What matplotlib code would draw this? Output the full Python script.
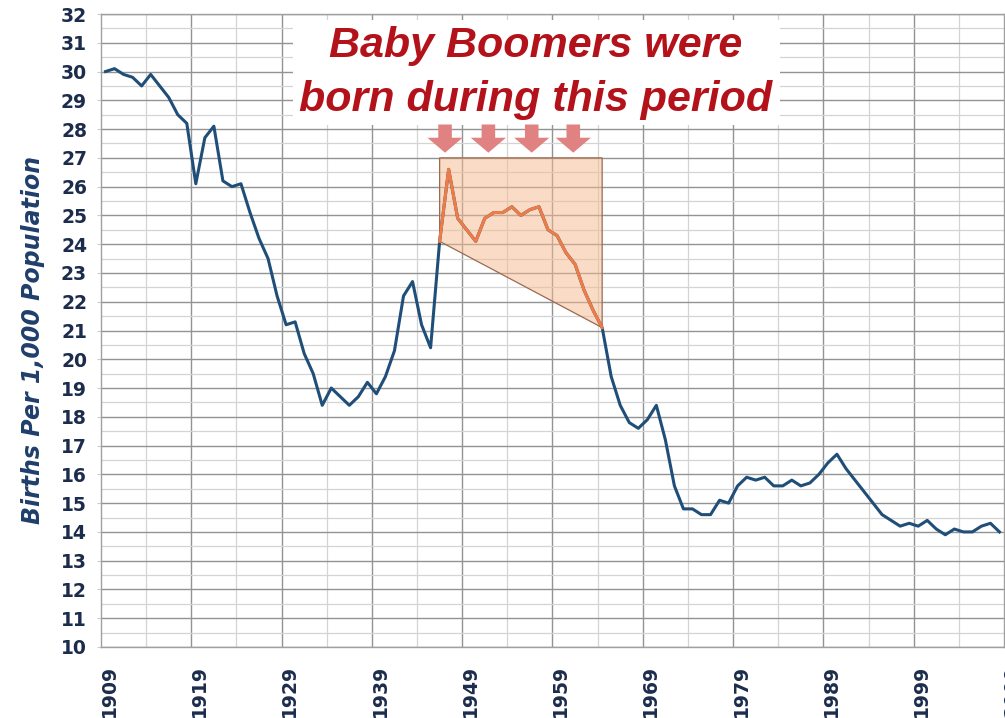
import matplotlib
matplotlib.use('Agg')
import matplotlib.pyplot as plt
import numpy as np
from matplotlib.patches import Polygon, Rectangle, FancyArrow
from matplotlib.transforms import blended_transform_factory

# US crude birth rate, births per 1,000 population
years = list(range(1909, 2009))
births = [
    30.0, 30.1, 29.9, 29.8, 29.5, 29.9, 29.5, 29.1, 28.5, 28.2,  # 1909-1918
    26.1, 27.7, 28.1, 26.2, 26.0, 26.1, 25.1, 24.2, 23.5, 22.2,  # 1919-1928
    21.2, 21.3, 20.2, 19.5, 18.4, 19.0, 18.7, 18.4, 18.7, 19.2,  # 1929-1938
    18.8, 19.4, 20.3, 22.2, 22.7, 21.2, 20.4, 24.1, 26.6, 24.9,  # 1939-1948
    24.5, 24.1, 24.9, 25.1, 25.1, 25.3, 25.0, 25.2, 25.3, 24.5,  # 1949-1958
    24.3, 23.7, 23.3, 22.4, 21.7, 21.1, 19.4, 18.4, 17.8, 17.6,  # 1959-1968
    17.9, 18.4, 17.2, 15.6, 14.8, 14.8, 14.6, 14.6, 15.1, 15.0,  # 1969-1978
    15.6, 15.9, 15.8, 15.9, 15.6, 15.6, 15.8, 15.6, 15.7, 16.0,  # 1979-1988
    16.4, 16.7, 16.2, 15.8, 15.4, 15.0, 14.6, 14.4, 14.2, 14.3,  # 1989-1998
    14.2, 14.4, 14.1, 13.9, 14.1, 14.0, 14.0, 14.2, 14.3, 14.0,  # 1999-2008
]
label_years = list(range(1909, 2010, 10))
boom_start, boom_end = 1946, 1964
boom_top = 27.0
arrow_years = [1946.6, 1951.4, 1956.2, 1960.8]

BLUE = '#1f4e79'
ORANGE = '#ef7c46'
NAVY = '#1c2c4c'
RED = '#b3121a'

fig = plt.figure(figsize=(10.05, 7.18), dpi=100)
ax = fig.add_axes([101 / 1005, 1 - 647 / 718, 903 / 1005, 633 / 718])

ax.set_xlim(1908.5, 2008.5)
ax.set_ylim(10, 32)

# grid: majors every 10 years / 1 unit, minors every 5 years / half unit
ax.set_xticks(np.arange(1918.5, 2008, 10))
ax.set_xticks(np.arange(1913.5, 2008, 10), minor=True)
ax.set_yticks(range(10, 33))
ax.set_yticks(np.arange(10.5, 32, 1), minor=True)
ax.grid(which='major', color='#939393', lw=1.0)
ax.grid(which='minor', color='#d4d4d4', lw=0.9)
ax.set_axisbelow(True)
ax.tick_params(axis='x', which='both', length=0, labelbottom=False)
ax.tick_params(axis='y', which='major', length=3, color='#cccccc', pad=7,
               labelsize=13.5, labelcolor=NAVY)
ax.tick_params(axis='y', which='minor', length=0)
for lab in ax.get_yticklabels():
    lab.set_fontweight('bold')
for s in ax.spines.values():
    s.set_color('#a0a0a0')
    s.set_linewidth(1.0)

# x labels, drawn as text so the clipped 2009 one still shows
trans = blended_transform_factory(ax.transData, ax.transAxes)
for yr in label_years:
    ax.text(yr + 0.4, -0.028, str(yr), transform=trans, rotation=90,
            ha='center', va='top', fontsize=13.5, fontweight='bold',
            color=NAVY, clip_on=False)

fig.text(33 / 1005, 1 - 340 / 718, 'Births Per 1,000 Population',
         rotation=90, ha='center', va='center', fontsize=17,
         fontweight='bold', fontstyle='italic', color='#1f3e6b')

# boomer shading
i0, i1 = years.index(boom_start), years.index(boom_end)
poly = Polygon([(boom_start, births[i0]), (boom_start, boom_top),
                (boom_end, boom_top), (boom_end, births[i1])],
               closed=True, facecolor='#f7b98e', alpha=0.5,
               edgecolor='none', zorder=1.5)
ax.add_patch(poly)
edge = Polygon(poly.get_xy(), closed=True, fill=False,
               edgecolor='#9a6a50', lw=0.9, zorder=1.6)
ax.add_patch(edge)

ax.plot(years, births, color=BLUE, lw=2.2, zorder=3,
        solid_joinstyle='round')
ax.plot(years[i0:i1 + 1], births[i0:i1 + 1], color=ORANGE, lw=2.2,
        zorder=4, solid_joinstyle='round')

# arrows pointing down into the period
for ay in arrow_years:
    ax.add_patch(FancyArrow(ay, 28.16, 0, -0.98, width=1.5,
                            head_width=3.9, head_length=0.52,
                            length_includes_head=True, color='#e08282',
                            ec='none', zorder=5))

# title box
ax.add_patch(Rectangle((192 / 903, 1 - 111 / 633), 487 / 903, 105 / 633,
                       transform=ax.transAxes, facecolor='white',
                       edgecolor='none', zorder=2))
ax.text(435 / 903, 1 - 59 / 633, 'Baby Boomers were\nborn during this period',
        transform=ax.transAxes, ha='center', va='center', fontsize=31,
        fontweight='bold', fontstyle='italic', family='Liberation Sans',
        color=RED, linespacing=1.45, zorder=6)

fig.savefig('out.png', dpi=100, facecolor='white')
